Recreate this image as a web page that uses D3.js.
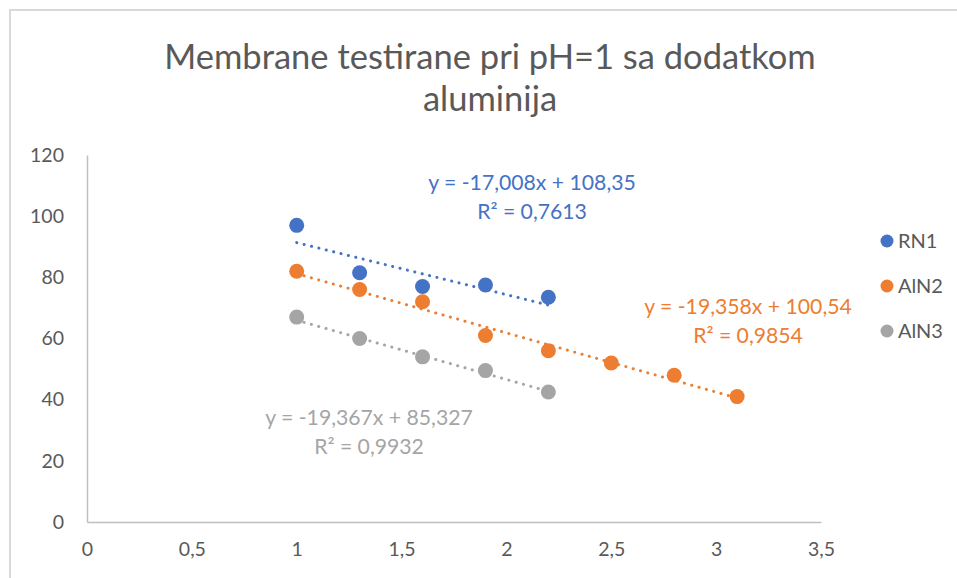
<!DOCTYPE html>
<html><head><meta charset="utf-8">
<script src="https://cdn.jsdelivr.net/npm/d3@7"></script>
<style>body{margin:0;background:#fff}svg{display:block}text{font-family:Lato,"Open Sans",sans-serif}</style>
</head><body>
<script>
const titleLines = ["Membrane testirane pri pH=1 sa dodatkom", "aluminija"];
const seriesNames = ["RN1", "AlN2", "AlN3"];
const colors = ["#4472c4", "#ed7d31", "#a5a5a5"];
const rn1X = [1, 1.3, 1.6, 1.9, 2.2];
const rn1Y = [97, 81.5, 77, 77.5, 73.5];
const aln2X = [1, 1.3, 1.6, 1.9, 2.2, 2.5, 2.8, 3.1];
const aln2Y = [82, 76, 72, 61, 56, 52, 48, 41];
const aln3X = [1, 1.3, 1.6, 1.9, 2.2];
const aln3Y = [67, 60, 54, 49.5, 42.5];
const slopes = [-17.008, -19.358, -19.367];
const intercepts = [108.35, 100.54, 85.327];
const eqLabels = ["y = -17,008x + 108,35", "y = -19,358x + 100,54", "y = -19,367x + 85,327"];
const r2Labels = ["R² = 0,7613", "R² = 0,9854", "R² = 0,9932"];
const xTicks = [0, 0.5, 1, 1.5, 2, 2.5, 3, 3.5];
const yTicks = [0, 20, 40, 60, 80, 100, 120];

const W = 957, H = 578;
const svg = d3.select("body").append("svg").attr("width", W).attr("height", H);
svg.append("path").attr("d", `M10,${H} V10 H${W}`).attr("fill","none").attr("stroke","#d9d9d9").attr("stroke-width",2);

const x = d3.scaleLinear().domain([0, 3.5]).range([87, 821]);
const y = d3.scaleLinear().domain([0, 120]).range([522, 155]);
const fmt = d => String(d).replace(".", ",");

svg.append("text").attr("x", 490).attr("text-anchor","middle").attr("fill","#595959").attr("font-size",34.5)
  .selectAll("tspan").data(titleLines).join("tspan").attr("x",490).attr("y",(d,i)=>69+i*42).text(d=>d);

const xa = svg.append("g").attr("transform","translate(0,522)").call(d3.axisBottom(x).tickValues(xTicks).tickFormat(fmt).tickSize(0).tickPadding(20));
xa.select(".domain").attr("stroke","#bfbfbf").attr("stroke-width",1.5);
xa.selectAll("text").attr("font-size",19.5).attr("fill","#595959").attr("font-family","Lato,'Open Sans',sans-serif");
const ya = svg.append("g").attr("transform","translate(87,0)").call(d3.axisLeft(y).tickValues(yTicks).tickSize(0).tickPadding(23));
ya.select(".domain").attr("stroke","#bfbfbf").attr("stroke-width",1.5);
ya.selectAll("text").attr("font-size",19.5).attr("fill","#595959").attr("font-family","Lato,'Open Sans',sans-serif");

const data = [
  rn1X.map((v,i)=>[v, rn1Y[i]]),
  aln2X.map((v,i)=>[v, aln2Y[i]]),
  aln3X.map((v,i)=>[v, aln3Y[i]])
];
data.forEach((pts,k)=>{
  const xs = d3.extent(pts, d=>d[0]);
  svg.append("line")
    .attr("x1", x(xs[0])).attr("y1", y(slopes[k]*xs[0]+intercepts[k]))
    .attr("x2", x(xs[1])).attr("y2", y(slopes[k]*xs[1]+intercepts[k]))
    .attr("stroke", colors[k]).attr("stroke-width",3).attr("stroke-linecap","round").attr("stroke-dasharray","0.1 7.5");
});
data.forEach((pts,k)=>{
  svg.append("g").selectAll("circle").data(pts).join("circle")
    .attr("cx", d=>x(d[0])).attr("cy", d=>y(d[1])).attr("r",7.5).attr("fill",colors[k]);
});
const eqPos = [[532,190],[748,314],[369,425]];
eqPos.forEach((p,k)=>{
  const t = svg.append("text").attr("text-anchor","middle").attr("fill",colors[k]).attr("font-size",21.2);
  t.append("tspan").attr("x",p[0]).attr("y",p[1]).text(eqLabels[k]);
  t.append("tspan").attr("x",p[0]).attr("y",p[1]+29).text(r2Labels[k]);
});
seriesNames.forEach((n,k)=>{
  const ly = 241 + k*45;
  svg.append("circle").attr("cx",887).attr("cy",ly).attr("r",6.5).attr("fill",colors[k]);
  svg.append("text").attr("x",898).attr("y",ly+7).attr("font-size",20).attr("fill","#595959").text(n);
});
</script>
</body></html>
